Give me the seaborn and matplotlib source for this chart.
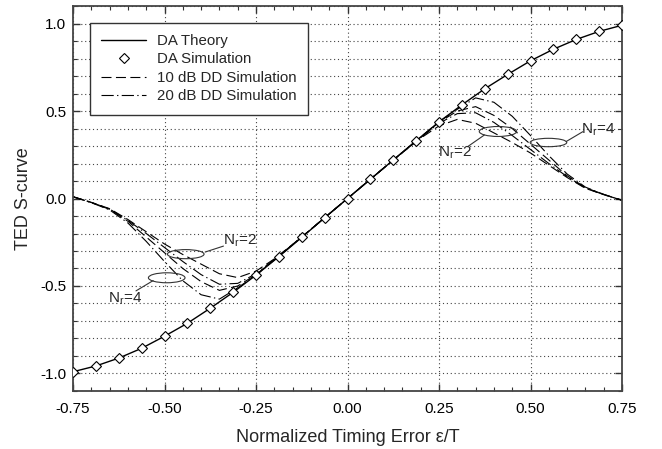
import matplotlib
matplotlib.use("Agg")
import matplotlib.pyplot as plt
import seaborn as sns
import pandas as pd
from matplotlib.patches import Ellipse
from matplotlib.lines import Line2D
from matplotlib.ticker import MultipleLocator

# ---------------- data ----------------
X_DA = [-0.75, -0.6875, -0.625, -0.5625, -0.5, -0.4375, -0.375, -0.3125, -0.25, -0.1875, -0.125, -0.0625,
        0.0, 0.0625, 0.125, 0.1875, 0.25, 0.3125, 0.375, 0.4375, 0.5, 0.5625, 0.625, 0.6875, 0.75]
DA_THEORY = [-0.99, -0.957, -0.912, -0.856, -0.787, -0.713, -0.627, -0.536, -0.438, -0.332, -0.222, -0.110,
             0.0, 0.110, 0.220, 0.330, 0.438, 0.535, 0.627, 0.709, 0.787, 0.853, 0.909, 0.955, 0.99]
DA_SIM = [-0.99, -0.957, -0.912, -0.856, -0.787, -0.713, -0.627, -0.536, -0.438, -0.332, -0.222, -0.110,
          0.0, 0.110, 0.220, 0.330, 0.438, 0.535, 0.627, 0.709, 0.787, 0.853, 0.909, 0.955, 0.99]

X_DD = [-0.75, -0.70, -0.65, -0.60, -0.55, -0.50, -0.45, -0.40, -0.35, -0.30, -0.25, -0.20, -0.15, -0.10, -0.05,
        0.0, 0.05, 0.10, 0.15, 0.20, 0.25, 0.30, 0.35, 0.40, 0.45, 0.50, 0.55, 0.60, 0.65, 0.70, 0.75]
DD10_NR2 = [0.01, -0.022, -0.058, -0.12, -0.19, -0.26, -0.32, -0.375, -0.43, -0.452, -0.415, -0.345, -0.262, -0.176, -0.088,
            0.0, 0.088, 0.176, 0.262, 0.345, 0.415, 0.452, 0.43, 0.375, 0.32, 0.26, 0.19, 0.12, 0.058, 0.022, -0.01]
DD20_NR2 = [0.01, -0.022, -0.06, -0.125, -0.20, -0.28, -0.36, -0.435, -0.49, -0.485, -0.43, -0.348, -0.263, -0.176, -0.088,
            0.0, 0.088, 0.176, 0.263, 0.348, 0.43, 0.485, 0.49, 0.435, 0.36, 0.28, 0.20, 0.125, 0.06, 0.022, -0.01]
DD10_NR4 = [0.01, -0.023, -0.062, -0.13, -0.22, -0.31, -0.40, -0.475, -0.525, -0.50, -0.435, -0.35, -0.264, -0.176, -0.088,
            0.0, 0.088, 0.176, 0.264, 0.35, 0.435, 0.50, 0.525, 0.475, 0.40, 0.31, 0.22, 0.13, 0.062, 0.023, -0.01]
DD20_NR4 = [0.01, -0.024, -0.065, -0.14, -0.245, -0.36, -0.47, -0.55, -0.575, -0.51, -0.438, -0.351, -0.264, -0.176, -0.088,
            0.0, 0.088, 0.176, 0.264, 0.351, 0.438, 0.51, 0.575, 0.55, 0.47, 0.36, 0.245, 0.14, 0.065, 0.024, -0.01]

X_TICKS = [-0.75, -0.50, -0.25, 0.00, 0.25, 0.50, 0.75]
X_TICKLABELS = ["-0.75", "-0.50", "-0.25", "0.00", "0.25", "0.50", "0.75"]
Y_TICKS = [-1.0, -0.5, 0.0, 0.5, 1.0]
Y_TICKLABELS = ["-1.0", "-0.5", "0.0", "0.5", "1.0"]

# ---------------- style ----------------
sns.set_theme(style="white")
plt.rcParams["font.family"] = ["Liberation Sans", "DejaVu Sans"]
plt.rcParams["mathtext.fontset"] = "custom"
plt.rcParams["mathtext.rm"] = "Liberation Sans"
plt.rcParams["mathtext.it"] = "Liberation Sans:italic"

fig = plt.figure(figsize=(6.62, 4.49), dpi=100)
ax = fig.add_axes([0.1103, 0.1292, 0.9396 - 0.1103, 0.9866 - 0.1292])

lw = 0.8
dash10 = (0, (9, 4))
dashdot20 = (0, (11, 3, 1.2, 3))

df_dd = pd.DataFrame({"x": X_DD, "a": DD10_NR2, "b": DD20_NR2, "c": DD10_NR4, "d": DD20_NR4})
sns.lineplot(data=df_dd, x="x", y="a", ax=ax, color="black", lw=lw, linestyle=dash10, sort=False)
sns.lineplot(data=df_dd, x="x", y="c", ax=ax, color="black", lw=lw, linestyle=dash10, sort=False)
sns.lineplot(data=df_dd, x="x", y="b", ax=ax, color="black", lw=lw, linestyle=dashdot20, sort=False)
sns.lineplot(data=df_dd, x="x", y="d", ax=ax, color="black", lw=lw, linestyle=dashdot20, sort=False)

sns.lineplot(x=X_DA, y=DA_THEORY, ax=ax, color="black", lw=1.0, sort=False)
ax.plot(X_DA, DA_SIM, linestyle="none", marker="D", markersize=5, markerfacecolor="white",
        markeredgecolor="black", markeredgewidth=0.8, zorder=5)

# ---------------- axes ----------------
ax.set_xlim(-0.75, 0.75)
ax.set_ylim(-1.1, 1.1)
ax.set_xticks(X_TICKS)
ax.set_xticklabels(X_TICKLABELS)
ax.set_yticks(Y_TICKS)
ax.set_yticklabels(Y_TICKLABELS)
ax.xaxis.set_minor_locator(MultipleLocator(0.05))
ax.yaxis.set_minor_locator(MultipleLocator(0.1))
ax.tick_params(which="both", direction="in", top=True, right=True, bottom=True, left=True,
               colors="#333333", labelcolor="black", labelsize=11)
ax.tick_params(which="major", length=5, width=1.0)
ax.tick_params(which="minor", length=3, width=0.8)
ax.tick_params(axis="x", which="major", pad=8)
ax.tick_params(axis="y", which="major", pad=5)
ax.grid(True, which="major", axis="x", linestyle=(0, (1, 2.5)), color="#444444", lw=0.8)
ax.grid(True, which="both", axis="y", linestyle=(0, (1, 2.5)), color="#444444", lw=0.8)
for s in ax.spines.values():
    s.set_color("#444444")
    s.set_linewidth(1.3)
ax.set_xlabel("Normalized Timing Error \u03b5/T", fontsize=13, labelpad=9)
ax.set_ylabel("TED S-curve", fontsize=13, labelpad=6)

# ---------------- annotations ----------------
ell_kw = dict(fill=False, edgecolor="#333333", lw=0.8, zorder=6)
ax.add_patch(Ellipse((0.411, 0.383), 0.102, 0.057, **ell_kw))
ax.add_patch(Ellipse((0.549, 0.320), 0.100, 0.048, **ell_kw))
ax.add_patch(Ellipse((-0.442, -0.318), 0.100, 0.052, **ell_kw))
ax.add_patch(Ellipse((-0.494, -0.453), 0.100, 0.057, **ell_kw))
ax.plot([0.328, 0.374], [0.296, 0.363], color="#333333", lw=0.8)
ax.plot([0.597, 0.643], [0.325, 0.382], color="#333333", lw=0.8)
ax.plot([-0.389, -0.339], [-0.306, -0.272], color="#333333", lw=0.8)
ax.plot([-0.578, -0.531], [-0.528, -0.469], color="#333333", lw=0.8)
tkw = dict(fontsize=11, ha="center", va="center")
ax.text(0.294, 0.262, r"N$_\mathregular{r}$=2", **tkw)
ax.text(0.684, 0.392, r"N$_\mathregular{r}$=4", **tkw)
ax.text(-0.295, -0.244, r"N$_\mathregular{r}$=2", **tkw)
ax.text(-0.608, -0.574, r"N$_\mathregular{r}$=4", **tkw)

# ---------------- legend ----------------
handles = [
    Line2D([], [], color="black", lw=1.0),
    Line2D([], [], linestyle="none", marker="D", markersize=5, markerfacecolor="white",
           markeredgecolor="black", markeredgewidth=0.8),
    Line2D([], [], color="black", lw=lw, linestyle=dash10),
    Line2D([], [], color="black", lw=lw, linestyle=dashdot20),
]
labels = ["DA Theory", "DA Simulation", "10 dB DD Simulation", "20 dB DD Simulation"]
leg = ax.legend(handles, labels, loc="upper left", bbox_to_anchor=(0.031, 0.957), borderaxespad=0,
                fontsize=10.8, handlelength=3.0, handletextpad=0.7, labelspacing=0.3, borderpad=0.75,
                fancybox=False, framealpha=1, edgecolor="#333333")
leg.get_frame().set_linewidth(1.0)

fig.savefig("out.png", dpi=100)
